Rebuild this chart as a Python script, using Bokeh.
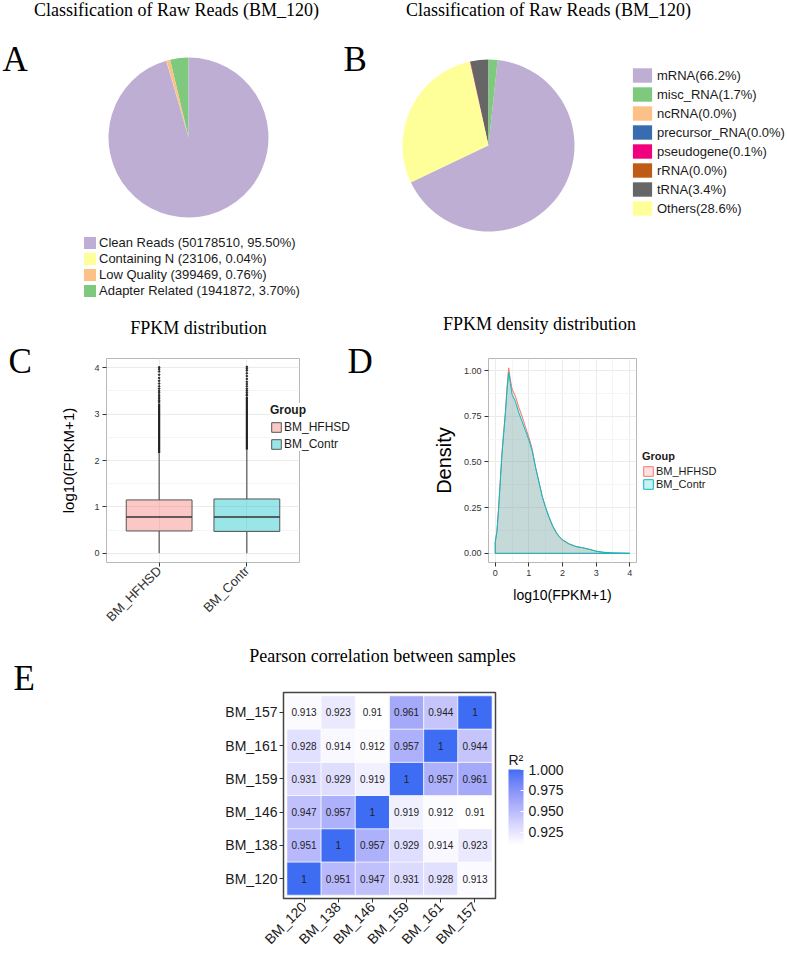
import math
import numpy as np
from bokeh.plotting import figure
from bokeh.models import (Range1d, Label, Legend, LegendItem, FixedTicker, LinearColorMapper,
                          ColorBar, PrintfTickFormatter, ColumnDataSource, GridBox)
from bokeh.layouts import column, row
from bokeh.embed import file_html
from bokeh.resources import INLINE
from bokeh.core.properties import value
from bokeh.transform import transform

SERIF = "Liberation Serif"
SANS = "Liberation Sans"

# ---------------- data ----------------
pie_title = "Classification of Raw Reads (BM_120)"

a_cats = ["Clean Reads", "Containing N", "Low Quality", "Adapter Related"]
a_counts = [50178510, 23106, 399469, 1941872]
a_pcts = [95.50, 0.04, 0.76, 3.70]
a_colors = ["#BEAED4", "#FFFF99", "#FDC086", "#7FC97F"]
a_draw_order = ["Adapter Related", "Low Quality", "Containing N", "Clean Reads"]

b_cats = ["mRNA", "misc_RNA", "ncRNA", "precursor_RNA", "pseudogene", "rRNA", "tRNA", "Others"]
b_pcts = [66.2, 1.7, 0.0, 0.0, 0.1, 0.0, 3.4, 28.6]
b_colors = ["#BEAED4", "#7FC97F", "#FDC086", "#386CB0", "#F0027F", "#BF5B17", "#666666", "#FFFF99"]
b_draw_order = ["tRNA", "rRNA", "pseudogene", "precursor_RNA", "ncRNA", "Others", "mRNA", "misc_RNA"]

c_title = "FPKM distribution"
c_groups = ["BM_HFHSD", "BM_Contr"]
c_low = [0.0, 0.0]
c_q1 = [0.48, 0.47]
c_med = [0.78, 0.78]
c_q3 = [1.15, 1.17]
c_high = [2.16, 2.23]
c_dense_top = [3.23, 3.37]
c_out_hfhsd = [3.26, 3.29, 3.33, 3.37, 3.41, 3.46, 3.50, 3.55, 3.60, 3.66, 3.72, 3.78, 3.85, 3.92, 3.97, 4.01]
c_out_contr = [3.40, 3.43, 3.47, 3.51, 3.55, 3.60, 3.65, 3.70, 3.76, 3.82, 3.88, 3.94, 3.98, 4.02]
c_colors = ["#F8766D", "#00BFC4"]
c_yticks = [0, 1, 2, 3, 4]

d_title = "FPKM density distribution"
d_x = [0.00, 0.05, 0.10, 0.15, 0.20, 0.25, 0.30, 0.35, 0.40, 0.45, 0.50, 0.60, 0.70, 0.80, 0.90,
       1.00, 1.10, 1.20, 1.30, 1.40, 1.50, 1.60, 1.70, 1.80, 1.90, 2.00, 2.20, 2.40, 2.60, 2.80,
       3.00, 3.20, 3.50, 4.00]
d_hfhsd = [0.06, 0.12, 0.25, 0.40, 0.55, 0.66, 0.77, 0.91, 1.015, 0.95, 0.90, 0.86, 0.80, 0.75, 0.69,
           0.636, 0.57, 0.47, 0.39, 0.31, 0.25, 0.195, 0.15, 0.115, 0.09, 0.072, 0.05, 0.037, 0.03, 0.022,
           0.012, 0.006, 0.002, 0.0]
d_contr = [0.06, 0.12, 0.24, 0.39, 0.54, 0.65, 0.76, 0.89, 0.99, 0.93, 0.87, 0.83, 0.77, 0.72, 0.67,
           0.62, 0.56, 0.47, 0.39, 0.31, 0.25, 0.20, 0.155, 0.12, 0.093, 0.075, 0.052, 0.038, 0.031, 0.022,
           0.012, 0.006, 0.002, 0.0]
d_xticks = [0, 1, 2, 3, 4]
d_yticks = [0.0, 0.25, 0.50, 0.75, 1.00]

e_title = "Pearson correlation between samples"
e_samples = ["BM_120", "BM_138", "BM_146", "BM_159", "BM_161", "BM_157"]
e_r2 = [
    [1, 0.951, 0.947, 0.931, 0.928, 0.913],
    [0.951, 1, 0.957, 0.929, 0.914, 0.923],
    [0.947, 0.957, 1, 0.919, 0.912, 0.91],
    [0.931, 0.929, 0.919, 1, 0.957, 0.961],
    [0.928, 0.914, 0.912, 0.957, 1, 0.944],
    [0.913, 0.923, 0.91, 0.961, 0.944, 1],
]
e_cb_ticks = [0.925, 0.950, 0.975, 1.000]
e_cb_title = "R\u00b2"
e_low_color = "#FFFFFF"
e_high_color = "#3E6DF4"

panel_letters = ["A", "B", "C", "D", "E"]

# ---------------- helpers ----------------
W, H = 787, 955


def put(p, g, lx, ly, text, size, font=SERIF, align="left", style="normal", color="black"):
    """ly = wanted baseline, measured from the top of the canvas."""
    w, h, bl, bb = g
    ly = ly - 0.33 * size   # empirical baseline correction of the renderer
    p.add_layout(Label(x=lx - bl, y=(h - bb) - ly, x_units="screen", y_units="screen",
                       text=text, text_font=font, text_font_size=f"{size}px",
                       text_align=align, text_baseline="alphabetic", text_font_style=style,
                       text_color=color))


def blank_fig(w, h):
    p = figure(width=w, height=h, x_range=Range1d(0, w), y_range=Range1d(0, h),
               x_axis_location=None, y_axis_location=None, title=None,
               output_backend="svg", toolbar_location=None, min_border=0)
    p.outline_line_color = None
    p.grid.visible = False
    return p


def pie(p, cx, cy, r, cats, pcts, colors, order):
    idx = [cats.index(n) for n in order]
    tot = float(sum(pcts))
    fr = np.array([pcts[i] for i in idx], dtype=float) / tot
    cum = np.concatenate([[0.0], np.cumsum(fr)])
    keep = [k for k in range(len(idx)) if fr[k] > 0]
    src = ColumnDataSource(dict(cat=[cats[idx[k]] for k in keep],
                                start=[math.pi / 2 + 2 * math.pi * cum[k] for k in keep],
                                end=[math.pi / 2 + 2 * math.pi * cum[k + 1] for k in keep],
                                color=[colors[idx[k]] for k in keep]))
    p.wedge(x=cx, y=cy, radius=r, start_angle="start", end_angle="end",
            fill_color="color", line_color=None, source=src)
    # key renderer for the legend (all categories, zero radius: draws nothing)
    lsrc = ColumnDataSource(dict(cat=list(cats), color=list(colors)))
    lr = p.wedge(x=cx, y=cy, radius=0, start_angle=0, end_angle=1,
                 fill_color="color", line_color=None, source=lsrc)
    return lr


def lab_interp(c0, c1, n):
    def to_lin(c):
        c = c / 255.0
        return np.where(c <= 0.04045, c / 12.92, ((c + 0.055) / 1.055) ** 2.4)

    def to_srgb(c):
        c = np.clip(c, 0, 1)
        return np.where(c <= 0.0031308, 12.92 * c, 1.055 * c ** (1 / 2.4) - 0.055) * 255

    M = np.array([[0.4124, 0.3576, 0.1805], [0.2126, 0.7152, 0.0722], [0.0193, 0.1192, 0.9505]])
    Mi = np.linalg.inv(M)
    wp = np.array([0.95047, 1.0, 1.08883])

    def f(t):
        return np.where(t > (6 / 29) ** 3, np.cbrt(t), t / (3 * (6 / 29) ** 2) + 4 / 29)

    def finv(t):
        return np.where(t > 6 / 29, t ** 3, 3 * (6 / 29) ** 2 * (t - 4 / 29))

    def hex2lab(hx):
        rgb = np.array([int(hx[i:i + 2], 16) for i in (1, 3, 5)], dtype=float)
        xyz = M @ to_lin(rgb) / wp
        fx, fy, fz = f(xyz)
        return np.array([116 * fy - 16, 500 * (fx - fy), 200 * (fy - fz)])

    def lab2hex(lab):
        L, a, b = lab
        fy = (L + 16) / 116
        xyz = np.array([finv(fy + a / 500), finv(fy), finv(fy - b / 200)]) * wp
        rgb = to_srgb(Mi @ xyz)
        return "#%02X%02X%02X" % tuple(int(round(v)) for v in rgb)

    l0, l1 = hex2lab(c0), hex2lab(c1)
    return [lab2hex(l0 + (l1 - l0) * t) for t in np.linspace(0, 1, n)]


def gg_style(p, tick_size):
    p.outline_line_color = "#B8B8B8"
    p.outline_line_width = 1
    for ax in p.axis:
        ax.axis_line_color = None
        ax.major_tick_line_color = "#333333"
        ax.major_tick_out = 4
        ax.major_tick_in = 0
        ax.minor_tick_line_color = None
        ax.major_label_text_font = SANS
        ax.major_label_text_font_size = tick_size
        ax.major_label_text_color = "#333333"
        ax.major_label_standoff = 3
        ax.axis_label_text_font = SANS
        ax.axis_label_text_font_style = "normal"
        ax.axis_label_text_color = "black"
    p.grid.grid_line_color = "#EBEBEB"
    p.grid.minor_grid_line_color = "#F5F5F5"


def mids(t):
    return [(a + b) / 2 for a, b in zip(t[:-1], t[1:])]


def key_legend(items, loc, font_size, glyph_w, glyph_h, spacing, standoff, title=None,
               padding=0, bg=None):
    kw = dict(items=items, location=loc, glyph_width=glyph_w, glyph_height=glyph_h,
              label_height=glyph_h, spacing=spacing, padding=padding, margin=0,
              label_standoff=standoff, label_text_font=SANS,
              label_text_font_size=f"{font_size}px", label_text_color="#1A1A1A",
              border_line_color=None)
    if bg is None:
        kw["background_fill_alpha"] = 0
    else:
        kw["background_fill_color"] = bg
        kw["background_fill_alpha"] = 1
    if title is not None:
        kw.update(title=title, title_text_font=SANS, title_text_font_size=f"{font_size}px",
                  title_text_font_style="bold", title_standoff=3, title_text_color="#1A1A1A")
    return Legend(**kw)


# ---------------- Panel A ----------------
pA = blank_fig(338, 300)
lrA = pie(pA, 188, 163, 80, a_cats, a_pcts, a_colors, a_draw_order)
pA.add_layout(key_legend([LegendItem(label=f"{c} ({n}, {v:.2f}%)", renderers=[lrA], index=i)
                          for i, (c, n, v) in enumerate(zip(a_cats, a_counts, a_pcts))],
                         (82, 2), 13, 15, 15, 1, 2))

# ---------------- Panel B ----------------
pB = blank_fig(449, 300)
lrB = pie(pB, 150, 155, 86, b_cats, b_pcts, b_colors, b_draw_order)
pB.add_layout(key_legend([LegendItem(label=f"{c}({v:.1f}%)", renderers=[lrB], index=i)
                          for i, (c, v) in enumerate(zip(b_cats, b_pcts))],
                         (292, 83), 13, 24, 18, 1, 3))

# ---------------- Panel C ----------------
pC = figure(width=380, height=332, x_range=Range1d(0.4, 2.6), y_range=Range1d(-0.2, 4.2),
            title=None, output_backend="svg", toolbar_location=None,
            min_border_left=106, min_border_right=81, min_border_top=55, min_border_bottom=69)
gg_style(pC, "9px")
c_pos = [i + 1 for i in range(len(c_groups))]
pC.xaxis.ticker = FixedTicker(ticks=c_pos)
pC.xaxis.major_label_overrides = {p_: g for p_, g in zip(c_pos, c_groups)}
pC.xaxis.major_label_orientation = math.pi / 4
pC.xaxis.major_label_text_font_size = "13px"
pC.xaxis.major_label_standoff = 2
pC.yaxis.ticker = FixedTicker(ticks=c_yticks, minor_ticks=mids(c_yticks))
pC.yaxis.axis_label = "log10(FPKM+1)"
pC.yaxis.axis_label_text_font_size = "15px"
pC.yaxis.axis_label_standoff = 14
pC.xgrid.minor_grid_line_color = None
srcC = ColumnDataSource(dict(x=c_pos, low=c_low, q1=c_q1, med=c_med, q3=c_q3, high=c_high,
                             dtop=c_dense_top, color=c_colors,
                             xl=[x - 0.375 for x in c_pos], xr=[x + 0.375 for x in c_pos]))
pC.segment(x0="x", x1="x", y0="low", y1="q1", source=srcC, line_color="#333333", line_width=1)
pC.segment(x0="x", x1="x", y0="q3", y1="high", source=srcC, line_color="#333333", line_width=1)
pC.segment(x0="x", x1="x", y0="high", y1="dtop", source=srcC, line_color="#222222", line_width=2.2)
pC.vbar(x="x", bottom="q1", top="q3", width=0.75, source=srcC, fill_color="color",
        fill_alpha=0.4, line_color="#555555", line_width=1)
pC.segment(x0="xl", x1="xr", y0="med", y1="med", source=srcC, line_color="#333333", line_width=1.6)
pC.scatter(x=[c_pos[0]] * len(c_out_hfhsd), y=c_out_hfhsd, size=1.6, color="#222222")
pC.scatter(x=[c_pos[1]] * len(c_out_contr), y=c_out_contr, size=1.6, color="#222222")

# ---------------- Panel D ----------------
pD = figure(width=407, height=332, x_range=Range1d(-0.2, 4.2), y_range=Range1d(-0.05, 1.066),
            title=None, output_backend="svg", toolbar_location=None,
            min_border_left=108, min_border_right=151, min_border_top=58, min_border_bottom=57)
gg_style(pD, "9px")
pD.xaxis.ticker = FixedTicker(ticks=d_xticks, minor_ticks=mids(d_xticks))
pD.yaxis.ticker = FixedTicker(ticks=d_yticks, minor_ticks=mids(d_yticks))
pD.yaxis.formatter = PrintfTickFormatter(format="%.2f")
pD.xaxis.axis_label = "log10(FPKM+1)"
pD.xaxis.axis_label_text_font_size = "14px"
pD.xaxis.axis_label_standoff = 8
pD.yaxis.axis_label = "Density"
pD.yaxis.axis_label_text_font_size = "20px"
pD.yaxis.axis_label_standoff = 6
for ys, col in zip([d_hfhsd, d_contr], c_colors):
    pD.patch(x=[d_x[0]] + d_x + [d_x[-1]], y=[0.0] + ys + [0.0], fill_color=col,
             fill_alpha=0.22, line_color=col, line_width=1)

# ---------------- Panel E ----------------
pE = figure(width=787, height=323, x_range=Range1d(0.4, 6.6), y_range=Range1d(0.4, 6.6),
            title=None, output_backend="svg", toolbar_location=None,
            min_border_left=283, min_border_right=292, min_border_top=60, min_border_bottom=53)
pE.grid.visible = False
pE.outline_line_color = "#444444"
pE.outline_line_width = 1.5
e_pos = [i + 1 for i in range(len(e_samples))]
for ax in pE.axis:
    ax.ticker = FixedTicker(ticks=e_pos)
    ax.major_label_overrides = {p_: s for p_, s in zip(e_pos, e_samples)}
    ax.axis_line_color = None
    ax.major_tick_line_color = "#333333"
    ax.major_tick_out = 4
    ax.major_tick_in = 0
    ax.minor_tick_line_color = None
    ax.major_label_text_font = SANS
    ax.major_label_text_font_size = "14px"
    ax.major_label_text_color = "#1A1A1A"
    ax.major_label_standoff = 2
pE.xaxis.major_label_orientation = math.pi / 4
xs, ys, vs, ts = [], [], [], []
for i, rowv in enumerate(e_r2):
    for j, v in enumerate(rowv):
        xs.append(e_pos[j]); ys.append(e_pos[i]); vs.append(v); ts.append(f"{v:g}")
mapper = LinearColorMapper(palette=lab_interp(e_low_color, e_high_color, 256),
                           low=min(vs), high=max(vs))
srcE = ColumnDataSource(dict(x=xs, y=ys, v=vs, t=ts))
pE.rect(x="x", y="y", width=1, height=1, source=srcE, fill_color=transform("v", mapper),
        line_color="white", line_width=0.6)
pE.text(x="x", y="y", text="t", source=srcE, text_align="center", text_baseline="middle",
        text_font=value(SANS), text_font_size=value("10px"), text_color="#222222")
cb = ColorBar(color_mapper=mapper, location=(225, 54), orientation="vertical", width=15, height=75,
              padding=0, ticker=FixedTicker(ticks=e_cb_ticks),
              formatter=PrintfTickFormatter(format="%.3f"),
              major_label_text_font=SANS, major_label_text_font_size="14px",
              major_label_text_color="#1A1A1A",
              major_tick_line_color="white", major_tick_in=3, major_tick_out=0,
              minor_tick_line_color=None, label_standoff=5, bar_line_color=None,
              border_line_color=None, background_fill_alpha=0)
pE.add_layout(cb)

# ---------------- text overlay (titles, panel letters, group legends) ----------------
ov = blank_fig(W, H)
ov.background_fill_alpha = 0
ov.border_fill_alpha = 0
gO = (W, H, 0, 0)
put(ov, gO, 176, 15, pie_title, 18, align="center")
put(ov, gO, 548, 15, pie_title, 18, align="center")
put(ov, gO, 198, 333, c_title, 18, align="center")
put(ov, gO, 539, 329, d_title, 18, align="center")
put(ov, gO, 382, 661, e_title, 18, align="center")
for letter, (lx, ly) in zip(panel_letters, [(2, 71), (343, 71), (8, 373), (347, 373), (13, 690)]):
    put(ov, gO, lx, ly, letter, 35)
put(ov, gO, 508, 764, e_cb_title, 14, font=SANS, color="#1A1A1A")

# legend keys: hidden renderers carrying the same styles as the plotted marks
kC = ov.vbar(x=c_pos, bottom=c_q1, top=c_q3, width=0.75, fill_color=c_colors, fill_alpha=0.4,
             line_color="#555555", visible=False)
ov.add_layout(key_legend([LegendItem(label=g, renderers=[kC], index=i) for i, g in enumerate(c_groups)],
                         (270, 504), 12, 12, 12, 3, 2, title="Group", padding=3, bg="white"))
kD = [ov.patch(x=[0, 1, 1], y=[0, 0, 1], fill_color=col, fill_alpha=0.22, line_color=col,
               visible=False) for col in c_colors]
ov.add_layout(key_legend([LegendItem(label=g, renderers=[r]) for g, r in zip(c_groups, kD)],
                         (642, 465), 11, 12, 12, 1, 2, title="Group", padding=2, bg="white"))

base = column(row(pA, pB), row(pC, pD), pE)
page = GridBox(children=[(base, 0, 0), (ov, 0, 0)])
open("out.html", "w").write(file_html(page, INLINE))
